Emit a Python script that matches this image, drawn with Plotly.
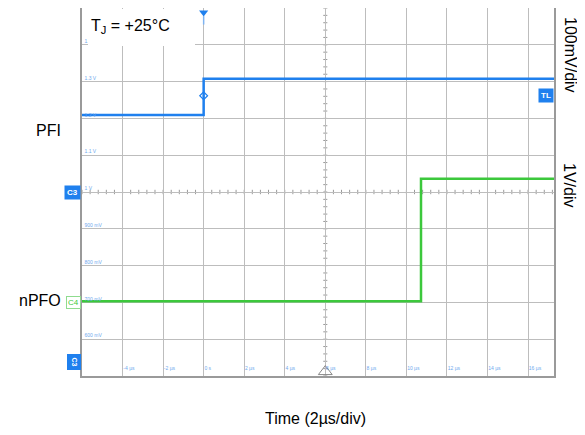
import plotly.graph_objects as go

# ---- data (read from the scope capture) ----
time_pfi_us = [-6.0, 0.0, 0.0, 17.28]
pfi_volts = [1.209, 1.209, 1.308, 1.308]          # C3, 100 mV/div
time_npfo_us = [-6.0, 10.72, 10.72, 17.28]
npfo_volts = [0.03, 0.03, 3.36, 3.36]             # C4, 1 V/div, ground at 700 mV grid line

x_tick_vals = [-4, -2, 0, 2, 4, 6, 8, 10, 12, 14, 16]
x_tick_text = ["-4 µs", "-2 µs", "0 s", "2 µs", "4 µs", "6 µs", "8 µs", "10 µs", "12 µs", "14 µs", "16 µs"]
y_tick_vals = [0.5, 0.6, 0.7, 0.8, 0.9, 1.0, 1.1, 1.2, 1.3, 1.4]
y_tick_text = ["500 mV", "600 mV", "700 mV", "800 mV", "900 mV", "1 V", "1.1 V", "1.2 V", "1.3 V", "1.4 V"]
trigger_time_us = 0.0
trigger_level = 1.2615
x_range = [-6.0, 17.28]
y_range = [0.5, 1.5]
npfo_range = [-2.0, 8.0]

BLUE = "#1f80ee"
GREEN = "#3cc83c"
GRID = "#bdbdbd"
LABEL_BLUE = "#6fa9ee"
FONT = "Liberation Sans, Arial"

# page body has an 8 px margin; plot area in screen px: x 82..554, y 8..376
PL, PR, PT, PB = 82, 554, 8, 376
def px(sx):
    return (sx - PL) / (PR - PL)
def py(sy):
    return (PB - sy) / (PB - PT)

fig = go.Figure()

fig.add_trace(go.Scatter(x=time_pfi_us, y=pfi_volts, mode="lines",
                         line=dict(color=BLUE, width=2.5), showlegend=False, hoverinfo="skip"))
fig.add_trace(go.Scatter(x=time_npfo_us, y=npfo_volts, mode="lines", yaxis="y2",
                         line=dict(color=GREEN, width=2.5), showlegend=False, hoverinfo="skip"))

# trigger diamond on the PFI edge
fig.add_trace(go.Scatter(x=[trigger_time_us], y=[trigger_level], mode="markers",
                         marker=dict(symbol="diamond-open", size=6, color=BLUE, line=dict(width=1.2)),
                         showlegend=False, hoverinfo="skip"))
# trigger position arrow at top
fig.add_trace(go.Scatter(x=[trigger_time_us], y=[1.488], mode="markers", cliponaxis=False,
                         marker=dict(symbol="triangle-down", size=8, color=BLUE),
                         showlegend=False, hoverinfo="skip"))
# horizontal position marker at bottom
fig.add_trace(go.Scatter(x=[6], y=[0.512], mode="markers", cliponaxis=False,
                         marker=dict(symbol="triangle-up-open", size=12, color="#888888", line=dict(width=1)),
                         showlegend=False, hoverinfo="skip"))

shapes = []
shapes.append(dict(type="line", xref="x", yref="y", x0=0, x1=0, y0=1.478, y1=1.455,
                   line=dict(color="#7fb4f2", width=1.5), layer="above"))
k = 0
while -6 + 0.4 * k <= 17.28:
    xv = -6 + 0.4 * k
    shapes.append(dict(type="line", xref="x", yref="y", x0=xv, x1=xv, y0=0.994, y1=1.006,
                       line=dict(color="#9a9a9a", width=1), layer="below"))
    k += 1
k = 0
while 0.5 + 0.02 * k <= 1.5:
    yv = 0.5 + 0.02 * k
    shapes.append(dict(type="line", xref="x", yref="y", x0=5.9, x1=6.1, y0=yv, y1=yv,
                       line=dict(color="#9a9a9a", width=1), layer="below"))
    k += 1
shapes.append(dict(type="rect", xref="paper", yref="paper",
                   x0=px(88), x1=px(195), y0=py(46), y1=py(9),
                   fillcolor="white", line=dict(width=0), layer="above"))

annotations = [
    dict(text="T<sub>J</sub> = +25°C", xref="paper", yref="paper", x=px(89), y=py(27),
         xanchor="left", yanchor="middle", showarrow=False,
         font=dict(family=FONT, size=16, color="black")),
    dict(text="PFI", xref="paper", yref="paper", x=px(63), y=py(130),
         xanchor="right", yanchor="middle", showarrow=False,
         font=dict(family=FONT, size=16, color="black")),
    dict(text="nPFO", xref="paper", yref="paper", x=px(63), y=py(300),
         xanchor="right", yanchor="middle", showarrow=False,
         font=dict(family=FONT, size=16, color="black")),
    dict(text="100mV/div", xref="paper", yref="paper", x=px(570), y=py(55),
         xanchor="center", yanchor="middle", textangle=90, showarrow=False,
         font=dict(family=FONT, size=16, color="black")),
    dict(text="1V/div", xref="paper", yref="paper", x=px(570), y=py(185),
         xanchor="center", yanchor="middle", textangle=90, showarrow=False,
         font=dict(family=FONT, size=16, color="black")),
    dict(text="Time (2µs/div)", xref="paper", yref="paper", x=px(315), y=py(418),
         xanchor="center", yanchor="middle", showarrow=False,
         font=dict(family=FONT, size=16, color="black")),
    dict(text="<b>TL</b>", xref="paper", yref="y", x=1.0, y=trigger_level, xanchor="right", yanchor="middle",
         showarrow=False, bgcolor=BLUE, borderpad=2, font=dict(family=FONT, size=8, color="white")),
    dict(text="<b>C3</b>", xref="paper", yref="y", x=px(81), y=1.0, xanchor="right", yanchor="middle",
         showarrow=False, bgcolor=BLUE, borderpad=2, font=dict(family=FONT, size=8, color="white")),
    dict(text="C4", xref="paper", yref="y2", x=px(81), y=0.0, xanchor="right", yanchor="middle",
         showarrow=False, bgcolor="white", bordercolor="#8fdc8f", borderwidth=1, borderpad=1,
         font=dict(family=FONT, size=8, color=GREEN)),
    dict(text="<b>C3</b>", xref="paper", yref="paper", x=px(82), y=py(362),
         xanchor="right", yanchor="middle", textangle=90, showarrow=False, bgcolor=BLUE, borderpad=3,
         font=dict(family=FONT, size=7, color="white")),
]

fig.update_layout(
    width=577, height=427,
    margin=dict(l=PL - 8, r=577 - (PR - 8), t=PT - 8, b=427 - (PB - 8), autoexpand=False),
    paper_bgcolor="white", plot_bgcolor="white",
    showlegend=False,
    shapes=shapes, annotations=annotations,
    xaxis=dict(range=x_range, tickvals=x_tick_vals, ticktext=x_tick_text,
               ticklabelposition="inside right", ticks="", automargin=False,
               tickfont=dict(family=FONT, size=5, color=LABEL_BLUE),
               showgrid=True, gridcolor=GRID, gridwidth=1, zeroline=False,
               showline=True, linecolor="#9a9a9a", linewidth=1.5, mirror=True, fixedrange=True),
    yaxis=dict(range=y_range, tickvals=y_tick_vals, ticktext=y_tick_text,
               ticklabelposition="inside top", ticks="", automargin=False,
               tickfont=dict(family=FONT, size=5, color=LABEL_BLUE),
               showgrid=True, gridcolor=GRID, gridwidth=1, zeroline=False,
               showline=True, linecolor="#9a9a9a", linewidth=1.5, mirror=True, fixedrange=True),
    yaxis2=dict(range=npfo_range, overlaying="y", side="right", showgrid=False, zeroline=False,
                showticklabels=False, ticks="", showline=False, fixedrange=True),
)

fig.write_html("out.html")
